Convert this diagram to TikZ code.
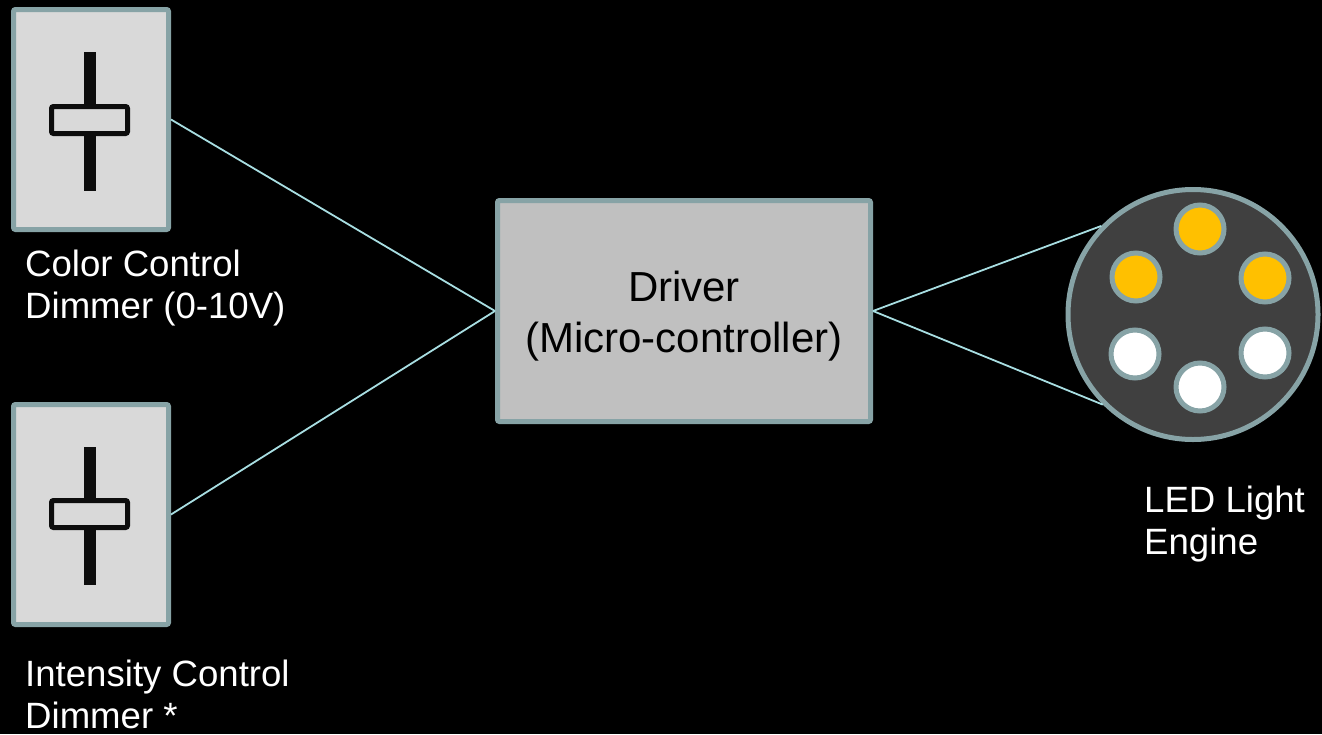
\documentclass[tikz,border=0pt]{standalone}
\usepackage{fontspec}
\setmainfont{Liberation Sans}
\definecolor{frame}{RGB}{135,163,166}
\definecolor{panel}{RGB}{217,217,217}
\definecolor{boxgray}{RGB}{192,192,192}
\definecolor{enginegray}{RGB}{64,64,64}
\definecolor{amber}{RGB}{255,192,0}
\definecolor{wire}{RGB}{168,222,226}
\definecolor{knobblack}{RGB}{13,13,13}
\tikzset{
  dimmer/.style={draw=frame, fill=panel, line width=5pt, rounded corners=2pt,
    minimum width=155pt, minimum height=220pt, inner sep=0pt},
  knob/.style={draw=knobblack, fill=panel, line width=5pt, rounded corners=2pt,
    minimum width=76pt, minimum height=27pt, inner sep=0pt},
  bar/.style={draw=knobblack, line width=12pt},
  driverbox/.style={draw=frame, fill=boxgray, line width=5pt, rounded corners=2pt,
    minimum width=373pt, minimum height=221pt, align=center,
    font=\fontsize{42}{51}\selectfont},
  led/.style={circle, draw=frame, line width=5pt, minimum size=48pt, inner sep=0pt},
  wireline/.style={draw=wire, line width=1.8pt},
  caption/.style={anchor=north west, align=left, inner sep=0pt, text=white,
    font=\fontsize{36.6}{42}\selectfont}
}
\begin{document}
\begin{tikzpicture}[x=1pt,y=-1pt]
    \fill[black] (0,0) rectangle (1322,734);
    \useasboundingbox (0,0) rectangle (1322,734);
    % dimmers
    \node[dimmer] (colordim) at (91,119.5) {};
    \draw[bar] ([shift={(-1.5,-67.5)}]colordim.center) -- ([shift={(-1.5,71.5)}]colordim.center);
    \node[knob] (colorknob) at ([shift={(-1.5,0.5)}]colordim.center) {};
    \node[dimmer] (intdim) at (91,514.5) {};
    \draw[bar] ([shift={(-1.5,-67.5)}]intdim.center) -- ([shift={(-1.5,70.5)}]intdim.center);
    \node[knob] (intknob) at ([shift={(-1.5,-0.5)}]intdim.center) {};
    \node[caption] (colorlabel) at (25,250) {Color Control\\Dimmer (0-10V)};
    \node[caption] (intlabel) at (25,660) {Intensity Control\\Dimmer *};
    % driver
    \node[driverbox] (driver) at (684,311) {\rule{0pt}{40pt}Driver\\(Micro-controller)};
    % light engine
    \node[circle, draw=frame, fill=enginegray, line width=5pt, minimum size=250pt,
      inner sep=0pt] (engine) at (1193,314.5) {};
    \node[led, fill=amber] (ledtop) at (1200,229) {};
    \node[led, fill=amber] (ledul) at (1136,277) {};
    \node[led, fill=amber] (ledur) at (1265,278) {};
    \node[led, fill=white] (ledll) at (1135,354) {};
    \node[led, fill=white] (ledlr) at (1265,353) {};
    \node[led, fill=white] (ledbot) at (1200,387) {};
    \node[caption] (enginelabel) at (1144,486) {LED Light\\Engine};
    % wires
    \draw[wireline] (colordim.east) -- (driver.west);
    \draw[wireline] (intdim.east) -- (driver.west);
    \draw[wireline] (driver.east) -- (engine.136);
    \draw[wireline] (driver.east) -- (engine.225);
\end{tikzpicture}
\end{document}
